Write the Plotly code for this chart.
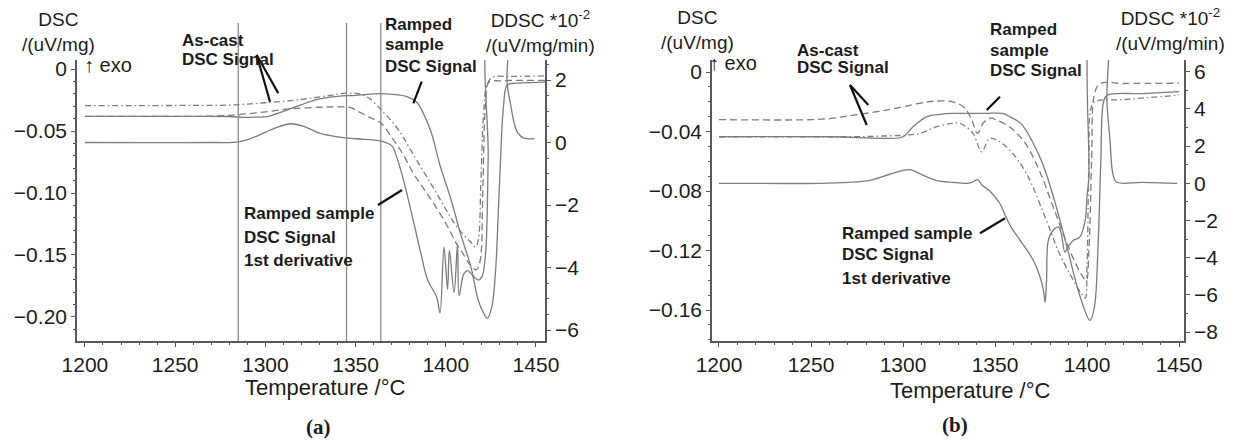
import plotly.graph_objects as go

W, H = 1238, 442

# ---------------- panel (a) data ----------------
# as-cast DSC signal, dash-dot (uV/mg)
a_ac1_x = [1200, 1230, 1260, 1282, 1300, 1320, 1335, 1345, 1352, 1358, 1364, 1370, 1375, 1380,
           1386, 1392, 1397, 1402, 1406, 1410, 1414, 1416.5, 1418, 1419.5, 1421, 1423, 1426, 1435, 1445, 1455]
a_ac1_y = [-0.0295, -0.0295, -0.0293, -0.029, -0.0272, -0.0245, -0.0215, -0.0195, -0.020, -0.024,
           -0.0328, -0.042, -0.0516, -0.064, -0.0786, -0.093, -0.1056, -0.118, -0.127, -0.134, -0.140,
           -0.1435, -0.138, -0.09, -0.035, -0.012, -0.0065, -0.006, -0.0058, -0.0055]

# as-cast DSC signal, dashed
a_ac2_x = [1200, 1240, 1270, 1285, 1300, 1315, 1330, 1340, 1347, 1353, 1358, 1364, 1370, 1376, 1382,
           1388, 1394, 1401, 1406, 1410, 1414, 1417, 1419, 1420.5, 1422, 1424, 1430, 1440, 1455]
a_ac2_y = [-0.0382, -0.0382, -0.038, -0.0368, -0.0345, -0.032, -0.0308, -0.0305, -0.031, -0.0354,
           -0.039, -0.0436, -0.055, -0.068, -0.084, -0.097, -0.110, -0.127, -0.141, -0.150, -0.159,
           -0.162, -0.155, -0.10, -0.03, -0.0105, -0.0095, -0.0092, -0.0092]

# ramped sample DSC signal, solid
a_rs_x = [1200, 1250, 1280, 1288, 1295, 1301, 1310, 1320, 1330, 1340, 1350, 1364, 1372, 1378, 1384,
          1388, 1392, 1397, 1403, 1408, 1414, 1418, 1421, 1423, 1425.5, 1427.5, 1429, 1430.6, 1432,
          1434, 1438, 1445, 1455]
a_rs_y = [-0.0382, -0.0382, -0.0383, -0.039, -0.0388, -0.0384, -0.0341, -0.0287, -0.0241, -0.022,
          -0.0212, -0.0198, -0.0206, -0.022, -0.027, -0.037, -0.0514, -0.0786, -0.1056, -0.132, -0.160,
          -0.1865, -0.197, -0.201, -0.192, -0.165, -0.12, -0.065, -0.03, -0.013, -0.0115, -0.011, -0.0105]

# ramped sample 1st derivative (DDSC *10^-2 uV/mg/min)
a_der_x = [1200, 1270, 1285, 1295, 1305, 1314, 1322, 1330, 1340, 1350, 1364, 1370, 1373, 1377, 1382,
           1386, 1390, 1395, 1396.8, 1399, 1401, 1402, 1404.6, 1406.5, 1407.4, 1410, 1412, 1415.7,
           1418, 1420, 1422, 1423.5, 1424.5, 1433, 1434, 1436, 1438, 1440, 1443, 1449]
a_der_y = [0, 0, 0.02, 0.2, 0.45, 0.6, 0.5, 0.3, 0.18, 0.12, 0.05, -0.1, -0.5, -1.3, -2.5, -3.5,
           -4.4, -4.95, -5.45, -3.35, -4.7, -3.45, -4.8, -3.25, -4.9, -4.2, -4.1, -4.3, -4.4, -4.3,
           -3.6, -0.5, 3.5, 3.5, 1.9, 1.2, 0.6, 0.3, 0.15, 0.12]

a_vlines = [1285, 1345, 1364]

# ---------------- panel (b) data ----------------
b_ac1_x = [1200, 1250, 1262, 1273, 1291, 1309, 1318, 1327, 1333, 1337, 1340.5, 1343.5, 1347, 1351,
           1358, 1366, 1374, 1382, 1390, 1396, 1399.5, 1401, 1402.5, 1404, 1407, 1420, 1450]
b_ac1_y = [-0.032, -0.032, -0.031, -0.029, -0.0256, -0.021, -0.0195, -0.020, -0.0235, -0.031, -0.0412,
           -0.0345, -0.031, -0.0323, -0.037, -0.047, -0.066, -0.092, -0.118, -0.134, -0.140, -0.12,
           -0.06, -0.015, -0.0078, -0.0077, -0.0075]

b_ac2_x = [1200, 1260, 1290, 1309, 1318, 1327, 1331, 1338, 1342.7, 1347, 1351, 1358, 1367, 1378,
           1385, 1392.6, 1397, 1399, 1400, 1401, 1402, 1404, 1420, 1450]
b_ac2_y = [-0.0435, -0.0435, -0.043, -0.0413, -0.0368, -0.0345, -0.0345, -0.0412, -0.0536, -0.0446,
           -0.0457, -0.0525, -0.068, -0.100, -0.122, -0.140, -0.149, -0.152, -0.13, -0.06, -0.025,
           -0.020, -0.0185, -0.0155]

b_rs_x = [1200, 1260, 1291, 1300, 1305.5, 1313, 1320, 1327, 1345, 1354, 1358, 1364, 1370, 1376, 1382,
          1389, 1396, 1401.6, 1404, 1406, 1407.5, 1409, 1411, 1430, 1450]
b_rs_y = [-0.0435, -0.0435, -0.0446, -0.0435, -0.0368, -0.030, -0.0284, -0.0278, -0.0278, -0.0278,
          -0.030, -0.0345, -0.046, -0.062, -0.085, -0.117, -0.150, -0.167, -0.158, -0.117, -0.06,
          -0.02, -0.0155, -0.0145, -0.0132]

b_der_x = [1200, 1255, 1270, 1282, 1291, 1300, 1304, 1309, 1318, 1327, 1335, 1338, 1340.5, 1343, 1347,
           1352.7, 1355.4, 1359, 1363.6, 1370.8, 1374.5, 1376.3, 1377.2, 1378, 1379, 1381.8, 1384.5,
           1386, 1388, 1389.8, 1392.6, 1396, 1399, 1400, 1401, 1403.4, 1410.2, 1410.8, 1412.5, 1414,
           1416, 1430, 1449]
b_der_y = [0, 0, 0.05, 0.16, 0.43, 0.7, 0.73, 0.52, 0.16, 0.05, 0, 0.07, 0.2, -0.1, -0.4, -1.1, -1.7,
           -2.4, -3.06, -4.14, -5.04, -5.75, -6.4, -5.2, -3.06, -2.5, -2.35, -2.7, -3.7, -3.4, -3.06,
           -2.9, -2.0, -0.7, 0.3, 9, 9, 4.4, 2.3, 0.54, 0.07, 0.05, 0]

x_ticks = [1200, 1250, 1300, 1350, 1400, 1450]
a_left_ticks = [0, -0.05, -0.10, -0.15, -0.20]
a_left_text = ["0", "−0.05", "−0.10", "−0.15", "−0.20"]
a_right_ticks = [2, 0, -2, -4, -6]
a_right_text = ["2", "0", "−2", "−4", "−6"]
b_left_ticks = [0, -0.04, -0.08, -0.12, -0.16]
b_left_text = ["0", "−0.04", "−0.08", "−0.12", "−0.16"]
b_right_ticks = [6, 4, 2, 0, -2, -4, -6, -8]
b_right_text = ["6", "4", "2", "0", "−2", "−4", "−6", "−8"]

GREY = "#7c7c7c"
AX = "#5a5a5a"
TXT = "#1c1c1c"
FONT = "Liberation Sans, Arial, sans-serif"
SOLID = dict(color=GREY, width=1.3)
DASH = dict(color=GREY, width=1.3, dash="7px,4px")
DASHDOT = dict(color=GREY, width=1.3, dash="6px,3px,1.5px,3px")


def px(x):
    return x / W


def py(y):
    return 1 - y / H


fig = go.Figure()

for xs, ys, ln, ya in [
    (a_ac1_x, a_ac1_y, DASHDOT, "y"),
    (a_ac2_x, a_ac2_y, DASH, "y"),
    (a_rs_x, a_rs_y, SOLID, "y"),
    (a_der_x, a_der_y, SOLID, "y2"),
]:
    fig.add_trace(go.Scatter(x=xs, y=ys, mode="lines", line=ln, xaxis="x", yaxis=ya,
                             line_shape="spline", showlegend=False, hoverinfo="skip"))

for xs, ys, ln, ya in [
    (b_ac1_x, b_ac1_y, DASH, "y3"),
    (b_ac2_x, b_ac2_y, DASHDOT, "y3"),
    (b_rs_x, b_rs_y, SOLID, "y3"),
    (b_der_x, b_der_y, SOLID, "y4"),
]:
    fig.add_trace(go.Scatter(x=xs, y=ys, mode="lines", line=ln, xaxis="x2", yaxis=ya,
                             line_shape="spline", showlegend=False, hoverinfo="skip"))

YD = [py(341), py(60)]
tickfont = dict(family=FONT, size=21, color=TXT)


def axstyle(**kw):
    d = dict(showline=True, linecolor=AX, linewidth=1.6, ticks="outside", ticklen=4,
             tickcolor=AX, tickwidth=1.2, showgrid=False, zeroline=False, tickfont=tickfont,
             tickmode="array", automargin=False)
    d.update(kw)
    return d


def minor(dt, t0=0):
    return dict(tick0=t0, dtick=dt, ticks="outside", ticklen=2.5, tickcolor=AX, showgrid=False)


fig.update_layout(
    width=W, height=H, margin=dict(l=0, r=0, t=0, b=0, autoexpand=False),
    plot_bgcolor="white", paper_bgcolor="white", showlegend=False, hovermode=False,
    xaxis=axstyle(domain=[px(77), px(545)], anchor="y", range=[1195.6, 1455],
                  tickvals=x_ticks, ticktext=[str(v) for v in x_ticks], minor=minor(10, 1200)),
    yaxis=axstyle(domain=YD, anchor="x", range=[-0.2194, 0.0073],
                  tickvals=a_left_ticks, ticktext=a_left_text, minor=minor(0.01)),
    yaxis2=axstyle(overlaying="y", side="right", anchor="x", range=[-6.35, 2.64],
                   tickvals=a_right_ticks, ticktext=a_right_text, minor=minor(0.5)),
    xaxis2=axstyle(domain=[px(712), px(1184)], anchor="y3", range=[1196.2, 1452.7],
                   tickvals=x_ticks, ticktext=[str(v) for v in x_ticks], minor=minor(10, 1200)),
    yaxis3=axstyle(domain=YD, anchor="x2", range=[-0.1808, 0.0081],
                   tickvals=b_left_ticks, ticktext=b_left_text, minor=minor(0.01)),
    yaxis4=axstyle(overlaying="y3", side="right", anchor="x2", range=[-8.48, 6.63],
                   tickvals=b_right_ticks, ticktext=b_right_text, minor=minor(1)),
)

# vertical marker lines in panel (a)
for v in a_vlines:
    fig.add_shape(type="line", xref="x", yref="paper", x0=v, x1=v, y0=py(341), y1=py(23),
                  line=dict(color="#8a8a8a", width=1.3))

# pointer lines from labels
pointers = [
    (256.7, 55, 278.3, 93.3), (256.7, 55, 270, 101.7),
    (421.7, 81.7, 413.3, 103.3), (378, 205, 402, 190),
    (850, 85, 868.3, 105), (850, 85, 866.7, 125),
    (1000, 96.7, 986.7, 110), (980, 233.3, 1005, 218.3),
]
for x0, y0, x1, y1 in pointers:
    fig.add_shape(type="line", xref="paper", yref="paper", x0=px(x0), y0=py(y0), x1=px(x1), y1=py(y1),
                  line=dict(color="#111111", width=2.2))


def text(t, x, y, size=20, bold=False, anchor="center", family=FONT):
    fig.add_annotation(text=("<b>%s</b>" % t) if bold else t, x=px(x), y=py(y), xref="paper",
                       yref="paper", showarrow=False, xanchor=anchor, yanchor="middle",
                       font=dict(family=family, size=size, color=TXT))


# axis headings
text("DSC<br>/(uV/mg)", 58, 32, size=19)
text("DDSC *10<sup>-2</sup><br>/(uV/mg/min)", 540, 32, size=19)
text("↑ exo", 82, 65, anchor="left")
text("DSC<br>/(uV/mg)", 697, 30, size=19)
text("DDSC *10<sup>-2</sup><br>/(uV/mg/min)", 1170, 30, size=19)
text("↑ exo", 707, 63, anchor="left")
text("Temperature /°C", 325, 387, size=22)
text("Temperature /°C", 970, 390, size=22)
text("(a)", 318, 427, size=21, bold=True, family="Liberation Serif, Times New Roman, serif")
text("(b)", 955, 425, size=21, bold=True, family="Liberation Serif, Times New Roman, serif")

# curve labels
for lines, x, ys in [
    (["As-cast", "DSC Signal"], 180, [40, 60]),
    (["Ramped", "sample", "DSC Signal"], 383, [24, 45, 66]),
    (["Ramped sample", "DSC Signal", "1st derivative"], 242, [213, 237, 260]),
    (["As-cast", "DSC Signal"], 795, [50, 67]),
    (["Ramped", "sample", "DSC Signal"], 988, [30, 50, 70]),
    (["Ramped sample", "DSC Signal", "1st derivative"], 840, [233, 255, 278]),
]:
    for t, y in zip(lines, ys):
        text(t, x, y, size=17, bold=True, anchor="left")

# page body has a default 8px margin; drop it so the figure fills the window
fig.write_html("out.html", config={"displayModeBar": False},
               post_script="document.body.style.margin='0';")
